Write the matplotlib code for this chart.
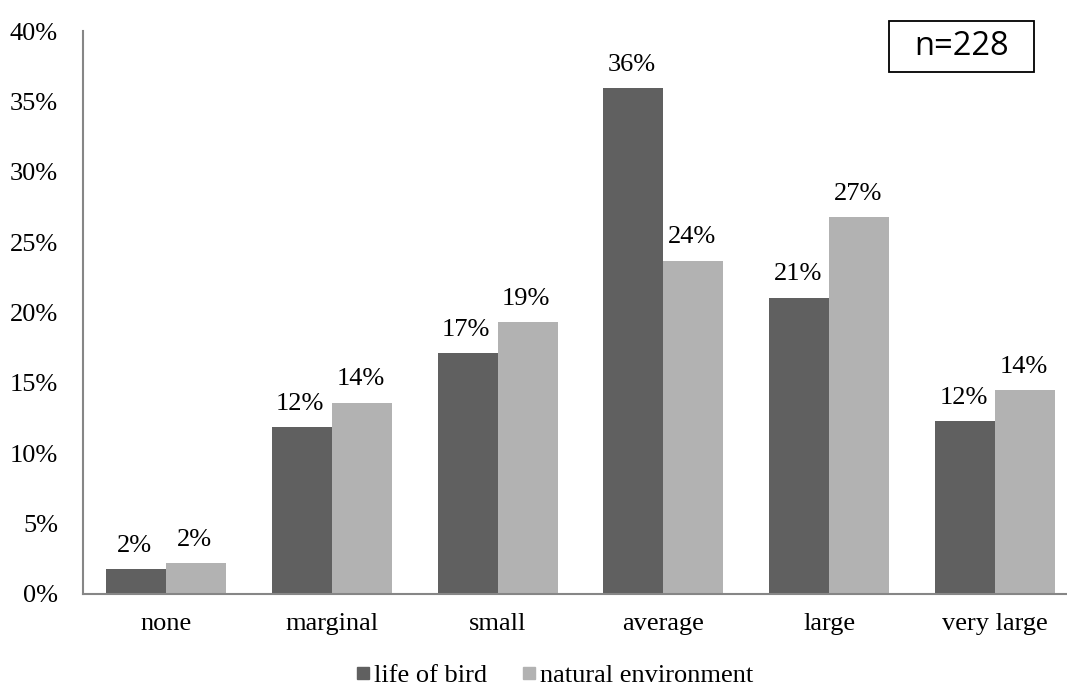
import numpy as np
import matplotlib.pyplot as plt
from matplotlib.patches import Rectangle
from matplotlib.lines import Line2D

categories = ['none', 'marginal', 'small', 'average', 'large', 'very large']
life_of_bird = [1.75, 11.84, 17.11, 35.96, 21.05, 12.28]
natural_env = [2.19, 13.60, 19.30, 23.68, 26.75, 14.47]
series_names = ['life of bird', 'natural environment']
labels_life = ['2%', '12%', '17%', '36%', '21%', '12%']
labels_nat = ['2%', '14%', '19%', '24%', '27%', '14%']
colors = ['#606060', '#b2b2b2']

plt.rcParams['font.family'] = ['Liberation Serif', 'DejaVu Serif']
FS = 19

fig = plt.figure(figsize=(10.67, 6.89), dpi=100)
W, H = 1067, 689
ax = fig.add_axes([83 / W, (H - 594) / H, 995 / W, 563 / H])

x = np.arange(len(categories))
w = 0.362
b1 = ax.bar(x - w / 2, life_of_bird, w, color=colors[0])
b2 = ax.bar(x + w / 2, natural_env, w, color=colors[1])

# value labels above bars
for bars, labs in [(b1, labels_life), (b2, labels_nat)]:
    for bar, lab in zip(bars, labs):
        ax.annotate(lab, (bar.get_x() + bar.get_width() / 2, bar.get_height()),
                    xytext=(-1, 12.5), textcoords='offset points',
                    ha='center', va='baseline', fontsize=FS)

ax.set_xlim(-0.5, 5.5)
ax.set_ylim(0, 40)
ax.set_yticks(range(0, 41, 5))
ax.set_yticklabels([f'{v}%' for v in range(0, 41, 5)], fontsize=FS)
ax.set_xticks(x)
ax.set_xticklabels(categories, fontsize=FS)
ax.tick_params(axis='y', length=0, pad=18)
ax.tick_params(axis='x', length=0, pad=14)

for s in ['top', 'right']:
    ax.spines[s].set_visible(False)
for s in ['left', 'bottom']:
    ax.spines[s].set_color('#868686')
    ax.spines[s].set_linewidth(1.5)

# n=228 box
fig.patches.append(Rectangle((889 / W, (H - 72) / H), 145 / W, 51 / H,
                             transform=fig.transFigure, facecolor='white',
                             edgecolor='black', linewidth=1.3))
fig.text(961.5 / W, (H - 46.5) / H, 'n=228', fontsize=23.5, family='Open Sans',
         ha='center', va='center')

handles = [Line2D([], [], marker='s', linestyle='none', markersize=8.3,
                  color=c) for c in colors]
fig.legend(handles, series_names, loc='center', bbox_to_anchor=(0.52, 1 - 675 / H),
           ncol=2, frameon=False, fontsize=FS, handlelength=0.5,
           handletextpad=0.2, columnspacing=1.3, borderaxespad=0, borderpad=0)

fig.savefig('out.png', dpi=100)
